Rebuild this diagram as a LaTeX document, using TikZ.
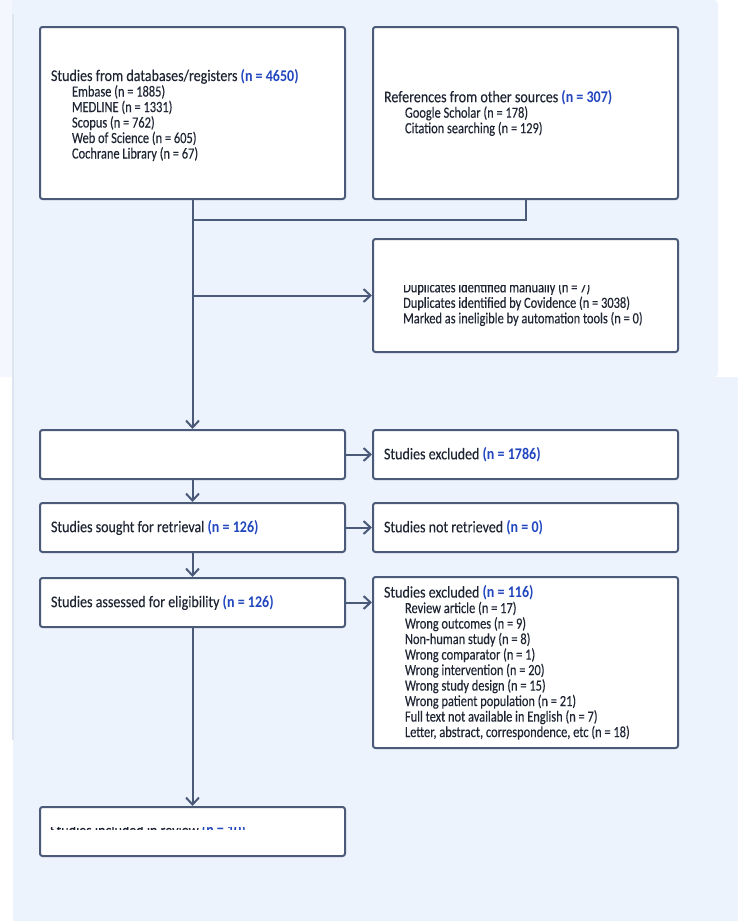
\documentclass[tikz,border=0pt]{standalone}
\usepackage{fontspec}
\setmainfont{Carlito}[FakeStretch=0.86, UprightFeatures={FakeBold=0.2}]
\newfontfamily\itemfamily{Carlito}[FakeStretch=0.80, UprightFeatures={FakeBold=0.2}]
\usetikzlibrary{arrows.meta}
\definecolor{edge}{HTML}{4A5A78}
\definecolor{ink}{HTML}{1F2533}
\definecolor{nblue}{HTML}{2146BE}
\definecolor{panel}{HTML}{EDF3FC}
\definecolor{strip}{HTML}{F4F7FD}
\definecolor{seam}{HTML}{DCE5F1}
\newcommand{\nb}[1]{\textcolor{nblue}{\bfseries #1}}
\newcommand{\ind}{\hspace*{21pt}}
\newcommand{\sm}{\itemfamily\fontsize{15.5}{15.5}\selectfont}
\begin{document}
\begin{tikzpicture}[x=1pt,y=-1pt,
  box/.style={draw=edge, line width=2pt, fill=white, rounded corners=2.5pt, anchor=north west,
    inner xsep=11pt, inner ysep=0pt, align=flush left, text=ink, font=\fontsize{16.3}{15.5}\selectfont},
  plain/.style={inner sep=0pt, align=left, text=ink, font=\fontsize{16.3}{15.5}\selectfont},
  link/.style={draw=edge, line width=2pt},
  arr/.style={link, -{Straight Barb[length=7pt,width=13pt,line width=2pt]}}]
\useasboundingbox (0,0) rectangle (738,921);
% background panels
\fill[panel, rounded corners=4pt] (0,0) rectangle (718,377);
\fill[strip] (0,0) rectangle (12,377);
\fill[panel] (13,377) rectangle (738,921);
\draw[seam, line width=1.5pt] (13,14) -- (13,740);
% boxes
\node[box, minimum width=305pt, minimum height=172pt, text width=283pt] (A) at (39,26)
 {\rule{0pt}{16pt}Studies from databases/registers \nb{(n = 4650)}\\ \sm
  \ind Embase (n = 1885)\\
  \ind MEDLINE (n = 1331)\\
  \ind Scopus (n = 762)\\
  \ind Web of Science (n = 605)\\
  \ind Cochrane Library (n = 67)};
\node[box, minimum width=305pt, minimum height=172pt, text width=283pt] (B) at (372,26)
 {References from other sources \nb{(n = 307)}\\ \sm
  \ind Google Scholar (n = 178)\\
  \ind Citation searching (n = 129)};
\node[box, minimum width=305pt, minimum height=113pt] (C) at (372,238) {};
\begin{scope}
\clip (372,285) rectangle (676,350);
\node[plain, anchor=west, font=\sm] (Ct) at (403,303.5)
 {Duplicates identified manually (n = 7)\\
  Duplicates identified by Covidence (n = 3038)\\
  Marked as ineligible by automation tools (n = 0)};
\end{scope}
\node[box, minimum width=305pt, minimum height=49pt, text width=283pt] (D) at (39,429) {};
\node[box, minimum width=305pt, minimum height=49pt, text width=283pt] (E) at (372,429)
 {Studies excluded \nb{(n = 1786)}};
\node[box, minimum width=305pt, minimum height=49pt, text width=283pt] (F) at (39,502)
 {Studies sought for retrieval \nb{(n = 126)}};
\node[box, minimum width=305pt, minimum height=49pt, text width=283pt] (G) at (372,502)
 {Studies not retrieved \nb{(n = 0)}};
\node[box, minimum width=305pt, minimum height=49pt, text width=283pt] (H) at (39,577)
 {Studies assessed for eligibility \nb{(n = 126)}};
\node[box, minimum width=305pt, minimum height=171pt, text width=283pt] (I) at (372,576)
 {Studies excluded \nb{(n = 116)}\\ \sm
  \ind Review article (n = 17)\\
  \ind Wrong outcomes (n = 9)\\
  \ind Non-human study (n = 8)\\
  \ind Wrong comparator (n = 1)\\
  \ind Wrong intervention (n = 20)\\
  \ind Wrong study design (n = 15)\\
  \ind Wrong patient population (n = 21)\\
  \ind Full text not available in English (n = 7)\\
  \ind Letter, abstract, correspondence, etc (n = 18)};
\node[box, minimum width=305pt, minimum height=49pt] (J) at (39,806) {};
\begin{scope}
\clip (45,827) rectangle (330,829.5);
\node[plain, anchor=west] (Jt) at (50,831) {Studies included in review \nb{(n = 10)}};
\end{scope}
% connectors
\draw[arr] (A.south) -- (D.north);
\draw[link] (B.south) -- ++(0,20) -| (A.south);
\draw[arr] (A.south |- C.west) -- (C.west);
\draw[arr] (D.east) -- (E.west);
\draw[arr] (D.south) -- (F.north);
\draw[arr] (F.east) -- (G.west);
\draw[arr] (F.south) -- (H.north);
\draw[arr] (H.east) -- (H.east -| I.west);
\draw[arr] (H.south) -- (J.north);
\end{tikzpicture}
\end{document}
